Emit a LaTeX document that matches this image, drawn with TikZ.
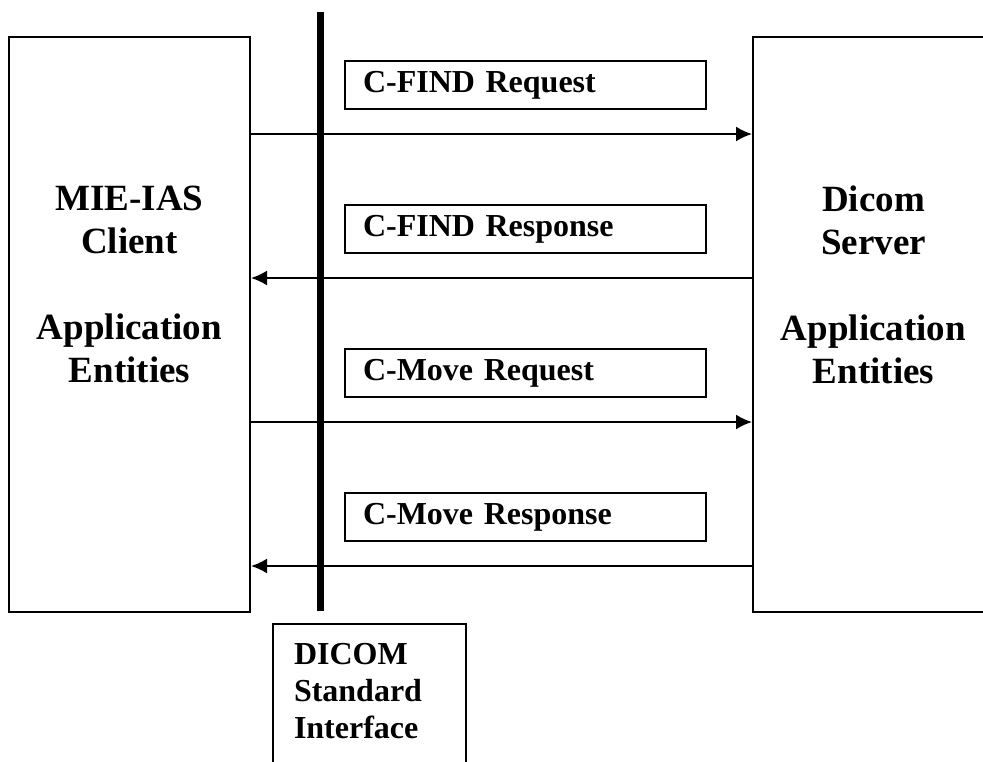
\documentclass[tikz,border=0pt]{standalone}
\usepackage{fontspec}
\setmainfont{Liberation Serif}
\usetikzlibrary{arrows.meta}

\begin{document}
\begin{tikzpicture}[x=1pt, y=-1pt,
    entity/.style={draw, line width=2pt, inner sep=0pt, anchor=north west,
      minimum width=241pt, minimum height=575pt},
    bigtext/.style={font=\bfseries\fontsize{37}{43}\selectfont, align=center,
      inner sep=0pt, anchor=north},
    msgbox/.style={draw, line width=2pt, anchor=north west, minimum width=361pt,
      minimum height=48pt, text width=325pt, inner xsep=18pt, inner ysep=0pt,
      align=left, font=\bfseries\fontsize{32}{37}\selectfont},
    msg/.style={line width=2pt, -{Latex[length=16pt, width=15pt]}}]

    \useasboundingbox (0,0) rectangle (983,761);
    \clip (0,0) rectangle (983,761);

    % application entities
    \node [entity] (client) at (  8, 36) {};
    \node [entity] (server) at (752, 36) {};
    \node [bigtext] (clienttext) at (client.north |- 0,186)
      {MIE-IAS\\Client\\[43pt]Application\\Entities};
    \node [bigtext] (servertext) at (server.north |- 0,186)
      {Dicom\\Server\\[43pt]Application\\Entities};

    % messages
    \node [msgbox] (findreq) at (344, 60) {C-FIND Request};
    \node [msgbox] (findrsp) at (344,204) {C-FIND Response};
    \node [msgbox] (movereq) at (344,348) {C-Move Request};
    \node [msgbox] (moversp) at (344,492) {C-Move Response};

    \foreach \m in {findreq, findrsp, movereq, moversp} {
      \path (\m.south) ++(0,24) coordinate (\m-y);
    }
    \draw [msg] (client.east |- findreq-y) -- (server.west |- findreq-y);
    \draw [msg] (server.west |- findrsp-y) -- (client.east |- findrsp-y);
    \draw [msg] (client.east |- movereq-y) -- (server.west |- movereq-y);
    \draw [msg] (server.west |- moversp-y) -- (client.east |- moversp-y);

    % interface line
    \coordinate (linetop) at (320, 12);
    \coordinate (linebot) at (320,611);
    \draw [line width=7pt] (linetop) -- (linebot);

    % standard interface
    \node [draw, line width=2pt, anchor=north west, inner xsep=21pt,
      inner ysep=19pt, font=\bfseries\fontsize{32}{37}\selectfont] (dicom)
      at (272,623) {\begin{minipage}[t][170pt][t]{151pt}
        DICOM\\Standard\\Interface
      \end{minipage}};
  \end{tikzpicture}
\end{document}
